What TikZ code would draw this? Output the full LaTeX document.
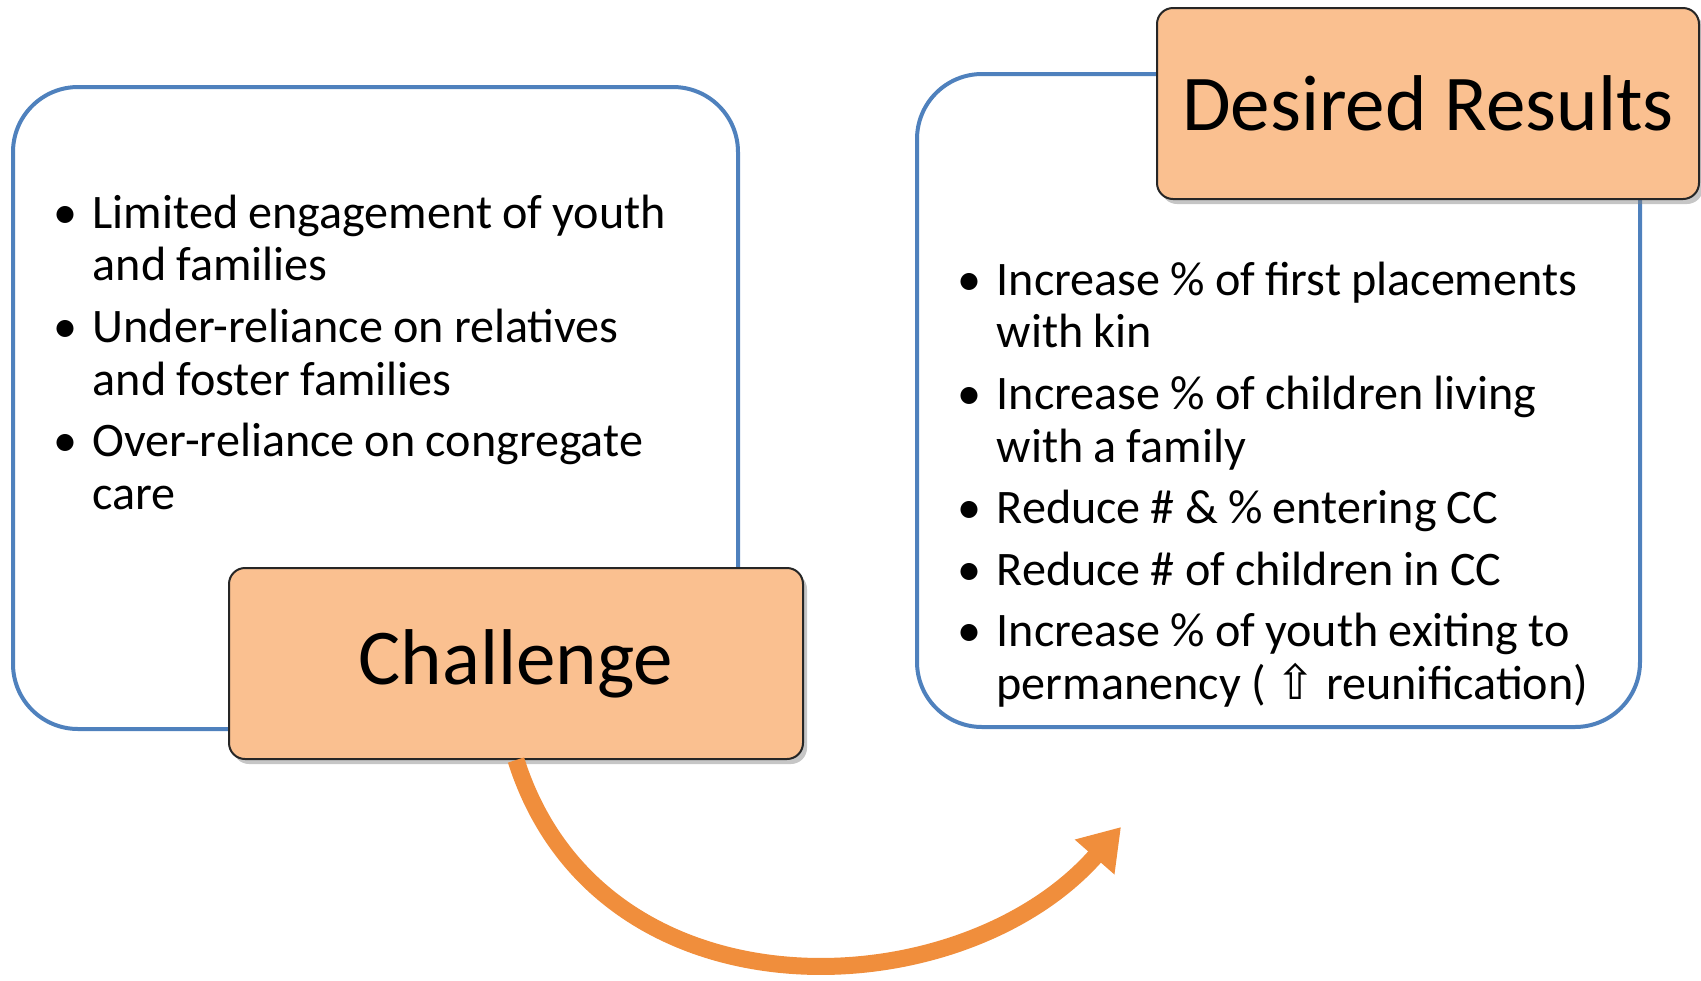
\documentclass[tikz,border=0pt]{standalone}
\usepackage{fontspec}
\setmainfont{Carlito}
\newfontfamily\symfont{DejaVu Sans}
\usepackage{enumitem}
\usetikzlibrary{arrows.meta,shadows}

\definecolor{boxblue}{RGB}{79,129,189}
\definecolor{tagfill}{RGB}{250,192,144}
\definecolor{arrfill}{RGB}{240,142,60}

\setlist[itemize]{label=\textbullet, leftmargin=3.2mm, labelsep=1.5mm, itemsep=0.9mm, parsep=0pt, topsep=0pt, partopsep=0pt}

\begin{document}
\begin{tikzpicture}[x=0.1mm, y=-0.1mm]
		\tikzset{blk/.style={draw=boxblue, line width=0.4mm, fill=white, rounded corners=6.5mm}};
		\tikzset{tag/.style={draw=black!85, line width=0.2mm, fill=tagfill, rounded corners=1.6mm,
			font=\fontsize{22.5}{27}\selectfont, drop shadow={shadow xshift=0.4mm, shadow yshift=-0.5mm, opacity=0.45}}};
		\tikzset{lst/.style={anchor=north west, inner sep=0pt, text width=#1, font=\fontsize{13.7}{14.97}\selectfont\raggedright,
			execute at begin node={\spaceskip=0.21em plus 0.05em minus 0.03em\relax}}};
		\tikzset{arr/.style={draw=arrfill, line width=1.7mm, -{Triangle[length=4mm, width=5mm]}}};

		\useasboundingbox (0,0) rectangle (1701,980);

		% challenge side
		\node[blk, minimum width=72.5mm, minimum height=64.2mm] (chbox) at (375.5,408) {};
		\node[lst=64mm] (chlist) at (60,175) {%
			\begin{itemize}
				\item Limited engagement of youth\newline and families
				\item Under-reliance on relatives\newline and foster families
				\item Over-reliance on congregate\newline care
			\end{itemize}};
		\node[tag, minimum width=57.4mm, minimum height=19.1mm] (chal) at (516,663.5) {Challenge};

		% results side
		\node[blk, minimum width=72.3mm, minimum height=65.3mm] (resbox) at (1278.5,400.5) {};
		\node[lst=65mm] (reslist) at (964,242) {%
			\begin{itemize}
				\item Increase \% of first placements\newline with kin
				\item Increase \% of children living\newline with a family
				\item Reduce \# \& \% entering CC
				\item Reduce \# of children in CC
				\item Increase \% of youth exiting to\newline permanency ( {\symfont ⇧} reunification)
			\end{itemize}};
		\node[tag, minimum width=54.2mm, minimum height=19.1mm] (res) at (1428,103.5) {Desired Results};

		\coordinate (tip) at (1121,827);
		\draw[arr] (chal.south) .. controls (600,1025) and (960,1010) .. (tip);
	\end{tikzpicture}
\end{document}
